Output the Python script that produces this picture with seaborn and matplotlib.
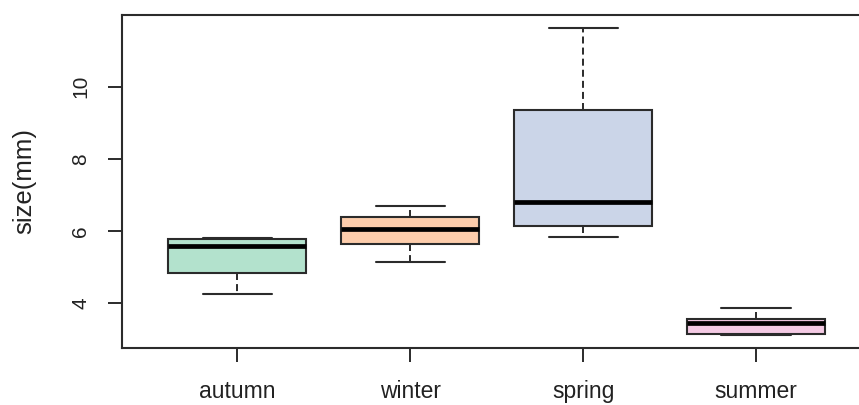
import pandas as pd
import seaborn as sns
import matplotlib.pyplot as plt

# five-number summaries (min, q1, median, q3, max)
seasons = ['autumn', 'winter', 'spring', 'summer']
autumn = [4.27, 4.83, 5.59, 5.77, 5.80]
winter = [5.15, 5.63, 6.06, 6.40, 6.70]
spring = [5.84, 6.15, 6.80, 9.36, 11.63]
summer = [3.12, 3.14, 3.46, 3.56, 3.87]
colors = ['#B3E2CD', '#FDCDAC', '#CBD5E8', '#F4CAE4']
yticks = [4, 6, 8, 10]


def main():
    df = pd.DataFrame({
        'season': [s for s, v in zip(seasons, [autumn, winter, spring, summer]) for _ in v],
        'size': autumn + winter + spring + summer,
    })

    sns.set_style('white')
    plt.rcParams['font.family'] = ['Liberation Sans', 'DejaVu Sans']

    fig = plt.figure(figsize=(8.59, 4.05), dpi=100)
    ax = fig.add_axes([0.1424, 0.1415, 0.8716, 0.8215])

    edge = '#2b2b2b'
    sns.boxplot(data=df, x='season', y='size', hue='season', order=seasons,
                palette=colors, saturation=1, width=0.8, whis=(0, 100),
                showfliers=False, linecolor=edge, linewidth=1.5, legend=False,
                medianprops=dict(color='black', linewidth=3.4, solid_capstyle='butt'),
                whiskerprops=dict(linestyle=(0, (3.6, 2.1)), linewidth=1.4),
                capprops=dict(linewidth=1.5), ax=ax)

    ax.set_xlim(-0.665, 3.665)
    ax.set_ylim(2.77, 11.99)
    ax.set_yticks(yticks)
    ax.set_yticklabels([str(t) for t in yticks], rotation=90, va='center')
    ax.set_xlabel('')
    ax.set_ylabel('size(mm)', fontsize=18.5, color='#222222', labelpad=25)

    ax.tick_params(axis='both', which='both', length=10, width=1.4, color=edge,
                   labelcolor='#222222', left=True, bottom=True)
    ax.tick_params(axis='x', pad=13.5, labelsize=16.5)
    ax.tick_params(axis='y', pad=13, labelsize=15)

    for side in ['left', 'bottom', 'top']:
        ax.spines[side].set_color(edge)
        ax.spines[side].set_linewidth(1.5)
    ax.spines['right'].set_visible(False)

    fig.savefig('out.png', dpi=100)


if __name__ == '__main__':
    main()
